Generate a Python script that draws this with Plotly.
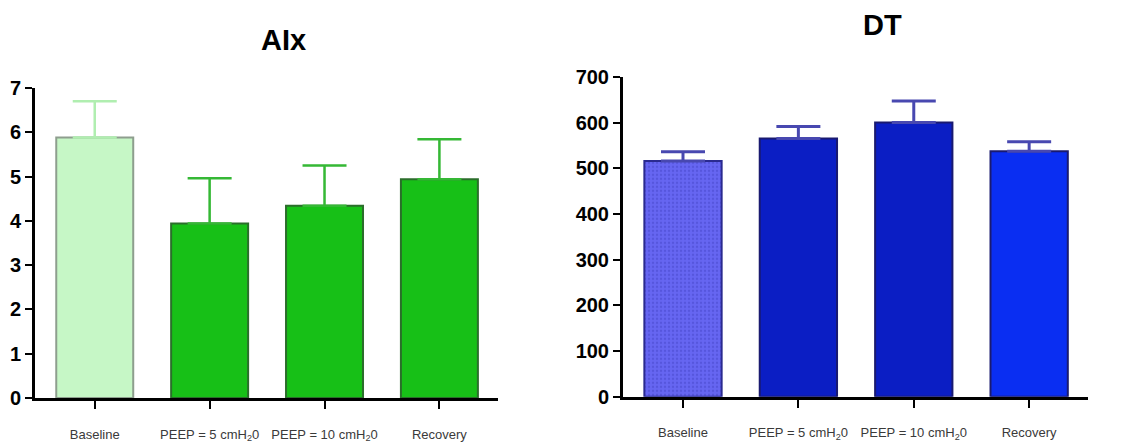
import plotly.graph_objects as go
from plotly.subplots import make_subplots

categories = ["Baseline", "PEEP = 5 cmH<sub>2</sub>0", "PEEP = 10 cmH<sub>2</sub>0", "Recovery"]

aix_values = [5.88, 3.94, 4.34, 4.94]
aix_errors = [0.82, 1.02, 0.91, 0.90]

dt_values = [516, 565, 600, 537]
dt_errors = [20, 26, 47, 21]

aix_ticks = [0, 1, 2, 3, 4, 5, 6, 7]
dt_ticks = [0, 100, 200, 300, 400, 500, 600, 700]

aix_fill = ["#c6f7c6", "#17c017", "#17c017", "#17c017"]
aix_line = ["#8e9e8e", "#2b6e2b", "#2b6e2b", "#2b6e2b"]
dt_fill = ["#6666f2", "#0b1ec4", "#0b1ec4", "#0a2ef2"]
dt_line = ["#2a2a90", "#1a1a70", "#1a1a70", "#1a1a70"]

W, H = 1141, 443
OFF = 8  # page body margin offset
TOP, BOT = 70 - OFF, 398 - OFF  # plot area in figure pixels
PH = BOT - TOP


def px_x(x):
    return (x - OFF) / W


def px_y(y):
    return (BOT - (y - OFF)) / PH


fig = make_subplots(rows=1, cols=2)

xi = list(range(len(categories)))

for i in xi:
    fig.add_trace(go.Bar(
        x=[i], y=[aix_values[i]], width=0.67,
        marker=dict(color=aix_fill[i], line=dict(color=aix_line[i], width=2)),
        error_y=dict(type="data", symmetric=False, array=[aix_errors[i]], arrayminus=[0],
                     color="#b0eeb0" if i == 0 else "#35b835", thickness=2.5, width=22),
        showlegend=False), row=1, col=1)

for i in xi:
    pattern = dict(shape=".", fgcolor="#4646c8", size=4, solidity=0.3) if i == 0 else None
    fig.add_trace(go.Bar(
        x=[i], y=[dt_values[i]], width=0.67,
        marker=dict(color=dt_fill[i], line=dict(color=dt_line[i], width=2),
                    pattern=pattern),
        error_y=dict(type="data", symmetric=False, array=[dt_errors[i]], arrayminus=[0],
                     color="#4848b0", thickness=3, width=22),
        showlegend=False), row=1, col=2)

xaxis_common = dict(
    tickmode="array", tickvals=xi, ticktext=categories,
    showline=True, linecolor="black", linewidth=3,
    ticks="outside", ticklen=8, tickwidth=2, tickcolor="black",
    tickfont=dict(family="Liberation Sans", size=13, color="#3a3a3a"),
    ticklabelstandoff=14,
    showgrid=False, zeroline=False, range=[-0.52, 3.51],
)
yaxis_common = dict(
    showline=True, linecolor="black", linewidth=3,
    ticks="outside", ticklen=7, tickwidth=2, tickcolor="black",
    tickfont=dict(family="Liberation Sans", size=20, color="black", weight="bold"),
    showgrid=False, zeroline=False,
)

fig.update_layout(
    width=W, height=H,
    margin=dict(l=0, r=0, t=TOP, b=H - BOT, autoexpand=False),
    plot_bgcolor="white", paper_bgcolor="white",
    xaxis=dict(**xaxis_common, domain=[px_x(35), px_x(498)]),
    xaxis2=dict(**xaxis_common, domain=[px_x(623), px_x(1088)]),
    yaxis=dict(**yaxis_common, range=[0, 7], tickvals=aix_ticks,
               domain=[px_y(398), px_y(88)]),
    yaxis2=dict(**yaxis_common, range=[0, 700], tickvals=dt_ticks,
                domain=[px_y(396.7), px_y(76.8)]),
    annotations=[
        dict(text="<b>AIx</b>", x=px_x(283), y=px_y(40), xref="paper", yref="paper",
             showarrow=False, xanchor="center", yanchor="middle",
             font=dict(family="Liberation Sans", size=29, color="black")),
        dict(text="<b>DT</b>", x=px_x(882), y=px_y(25), xref="paper", yref="paper",
             showarrow=False, xanchor="center", yanchor="middle",
             font=dict(family="Liberation Sans", size=29, color="black")),
    ],
)

fig.write_html("out.html")
